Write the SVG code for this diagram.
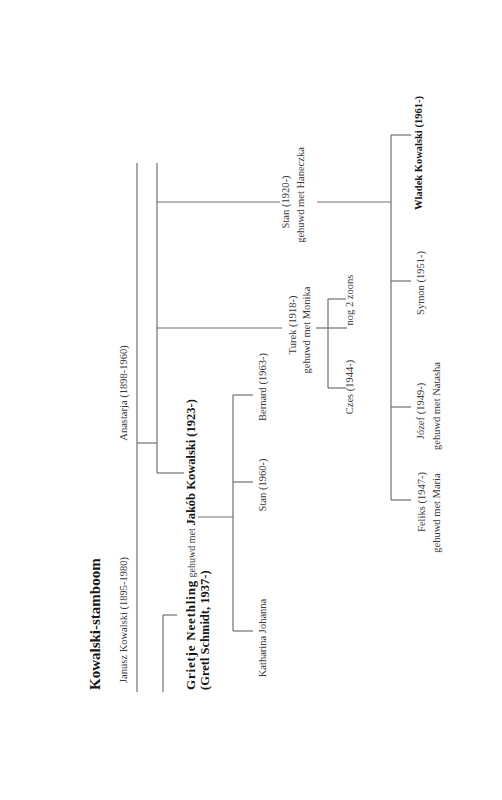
<svg xmlns="http://www.w3.org/2000/svg" width="502" height="800" viewBox="0 0 502 800">
<style>
text{font-family:"Liberation Serif","Times New Roman",serif;fill:#3a3a3a;font-size:10.5px}
.b{font-weight:bold;fill:#151515}
.m{text-anchor:middle}
.c line{stroke:#707070;stroke-width:1.2;fill:none}
</style>
<rect width="502" height="800" fill="#ffffff"/>
<g class="c" id="connectors">
<line x1="137" y1="163" x2="137" y2="692"/>
<line x1="157" y1="163" x2="157" y2="473"/>
<line x1="137" y1="443" x2="157" y2="443"/>
<line x1="157" y1="202" x2="280" y2="202"/>
<line x1="317" y1="202" x2="391" y2="202"/>
<line x1="157" y1="328" x2="282" y2="328"/>
<line x1="316" y1="328" x2="347" y2="328"/>
<line x1="328" y1="299" x2="328" y2="388"/>
<line x1="328" y1="299" x2="346" y2="299"/>
<line x1="328" y1="388" x2="346" y2="388"/>
<line x1="157" y1="473" x2="184" y2="473"/>
<line x1="198" y1="517" x2="233" y2="517"/>
<line x1="233" y1="395" x2="233" y2="631"/>
<line x1="233" y1="395" x2="253" y2="395"/>
<line x1="233" y1="482" x2="253" y2="482"/>
<line x1="233" y1="631" x2="253" y2="631"/>
<line x1="163" y1="615" x2="163" y2="692"/>
<line x1="163" y1="615" x2="177" y2="615"/>
<line x1="391" y1="135" x2="391" y2="500"/>
<line x1="391" y1="135" x2="411" y2="135"/>
<line x1="391" y1="281" x2="411" y2="281"/>
<line x1="391" y1="407" x2="411" y2="407"/>
<line x1="391" y1="500" x2="411" y2="500"/>
</g>
<g id="title"><text class="b" style="font-size:15px" transform="translate(100,690) rotate(-90)">Kowalski-stamboom</text></g>
<g id="janusz"><text class="m" transform="translate(126.5,620) rotate(-90)">Janusz Kowalski (1895-1980)</text></g>
<g id="anastarja"><text class="m" transform="translate(126.5,393) rotate(-90)">Anastarja (1898-1960)</text></g>
<g id="jakob">
<text transform="translate(195,690) rotate(-90)"><tspan class="b" style="font-size:13px;letter-spacing:0.8px">Grietje Neethling</tspan> <tspan style="font-size:10px">gehuwd met</tspan> <tspan class="b" style="font-size:12.5px">Jakób Kowalski (1923-)</tspan></text>
<text class="b" style="font-size:12.5px" transform="translate(208.5,690) rotate(-90)">(Gretl Schmidt, 1937-)</text>
</g>
<g id="bernard"><text class="m" transform="translate(265.5,387) rotate(-90)">Bernard (1963-)</text></g>
<g id="stan1960"><text class="m" transform="translate(265.5,485) rotate(-90)">Stan (1960-)</text></g>
<g id="katharina"><text class="m" transform="translate(265.5,638) rotate(-90)">Katharina Johanna</text></g>
<g id="turek">
<text class="m" transform="translate(295.5,325) rotate(-90)">Turek (1918-)</text>
<text class="m" transform="translate(309.5,330) rotate(-90)">gehuwd met Monika</text>
</g>
<g id="stan1920">
<text class="m" transform="translate(288.5,202) rotate(-90)">Stan (1920-)</text>
<text class="m" transform="translate(303.5,195) rotate(-90)">gehuwd met Haneczka</text>
</g>
<g id="nog"><text class="m" transform="translate(352.5,300) rotate(-90)">nog 2 zoons</text></g>
<g id="czes"><text class="m" transform="translate(352.5,387) rotate(-90)">Czes (1944-)</text></g>
<g id="wladek"><text class="b m" style="font-size:10.5px" transform="translate(422,153) rotate(-90)">Wladek Kowalski (1961-)</text></g>
<g id="symon"><text class="m" transform="translate(424,283) rotate(-90)">Symon (1951-)</text></g>
<g id="jozef">
<text class="m" transform="translate(424,411) rotate(-90)">Józef (1949-)</text>
<text class="m" transform="translate(440,406) rotate(-90)">gehuwd met Natasha</text>
</g>
<g id="feliks">
<text class="m" transform="translate(425,502) rotate(-90)">Feliks (1947-)</text>
<text class="m" transform="translate(440,513) rotate(-90)">gehuwd met Maria</text>
</g>
</svg>
